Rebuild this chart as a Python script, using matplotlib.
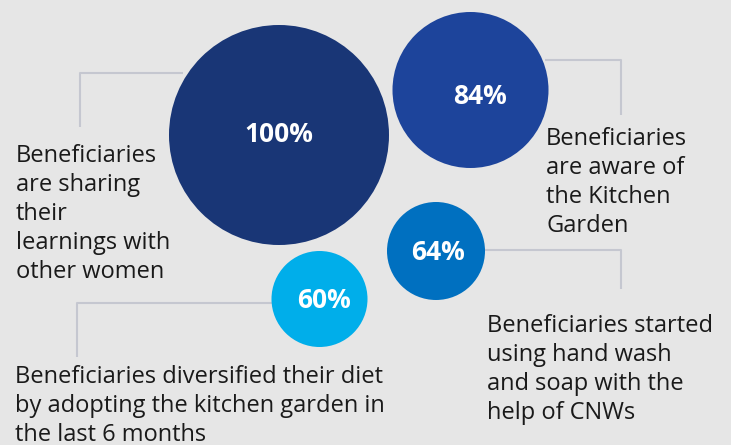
import matplotlib
matplotlib.use("Agg")
import matplotlib.pyplot as plt
from matplotlib.patches import Circle

# Survey results
values = [100, 84, 64, 60]
value_labels = ["100%", "84%", "64%", "60%"]
descriptions = [
    "Beneficiaries\nare sharing\ntheir\nlearnings with\nother women",
    "Beneficiaries\nare aware of\nthe Kitchen\nGarden",
    "Beneficiaries started\nusing hand wash\nand soap with the\nhelp of CNWs",
    "Beneficiaries diversified their diet\nby adopting the kitchen garden in\nthe last 6 months",
]

# Layout (pixel coordinates, y downwards)
centers = [(279, 135), (470.5, 90), (436, 251), (319.5, 299)]
radii = [110, 78, 49, 48]
label_pos = [(279, 135), (479.5, 96.5), (438, 253), (324.5, 300.5)]
colors = ["#193676", "#1d449b", "#0070c0", "#00aeea"]
# left x and first-line baseline of each description
text_pos = [(16, 162), (546, 145), (487, 332), (15, 383)]
line_step = 29
connectors = [
    [(183, 73), (80, 73), (80, 127)],
    [(545, 60), (621, 60), (621, 115)],
    [(484, 250), (621, 250), (621, 289)],
    [(272, 303), (77, 303), (77, 357)],
]

bg = "#e6e6e6"
line_c = "#c5c7d0"
txt_c = "#1a1a1a"

fig = plt.figure(figsize=(7.31, 4.45), dpi=100)
fig.patch.set_facecolor(bg)
ax = fig.add_axes([0, 0, 1, 1])
ax.set_facecolor(bg)
ax.set_xlim(0, 731)
ax.set_ylim(445, 0)
ax.set_aspect("equal")
ax.axis("off")

for pts in connectors:
    xs, ys = zip(*pts)
    ax.plot(xs, ys, color=line_c, lw=1.5, solid_capstyle="butt", zorder=1)

for (cx, cy), r, c in zip(centers, radii, colors):
    ax.add_patch(Circle((cx, cy), r, facecolor=c, edgecolor="none", zorder=2))

for (lx, ly), lab in zip(label_pos, value_labels):
    ax.text(lx, ly, lab, ha="center", va="center", color="white",
            fontsize=19, fontweight="bold", family="Open Sans", zorder=3)

for (tx, ty), d in zip(text_pos, descriptions):
    for i, line in enumerate(d.split("\n")):
        ax.text(tx, ty + i * line_step, line, ha="left", va="baseline",
                color=txt_c, fontsize=17, family="Open Sans", zorder=3)

fig.savefig("out.png", dpi=100, facecolor=bg)
